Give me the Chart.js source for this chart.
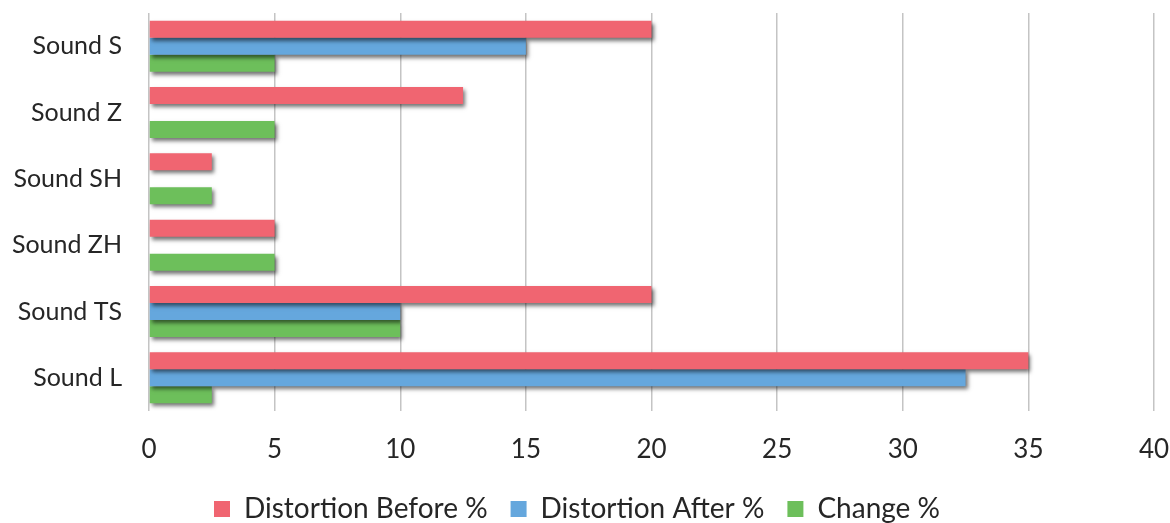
<!DOCTYPE html>
<html>
<head>
<meta charset="utf-8">
<script src="https://cdn.jsdelivr.net/npm/chart.js@4"></script>
<style>
  html, body { margin: 0; padding: 0; background: #fff; }
  #wrap { width: 1170px; height: 523px; }
</style>
</head>
<body>
<div id="wrap"><canvas id="chart" width="1170" height="523"></canvas></div>
<script>
const categories = ['Sound S', 'Sound Z', 'Sound SH', 'Sound ZH', 'Sound TS', 'Sound L'];
const distortionBefore = [20, 12.5, 2.5, 5, 20, 35];
const distortionAfter = [15, 0, 0, 0, 10, 32.5];
const change = [5, 5, 2.5, 5, 10, 2.5];
const xTicks = [0, 5, 10, 15, 20, 25, 30, 35, 40];

// soft drop shadow under the bars, like the original
const barShadow = {
    id: 'barShadow',
    afterInit(chart) {
        // legend padding is wide for the item spacing, keep the box itself short
        const fit = chart.legend.fit;
        chart.legend.fit = function () {
            fit.call(this);
            this.height = 51;
        };
    },
    beforeDatasetsDraw(chart) {
        const ctx = chart.ctx;
        ctx.save();
        ctx.shadowColor = 'rgba(0,0,0,0.55)';
        ctx.shadowBlur = 4;
        ctx.shadowOffsetX = 2;
        ctx.shadowOffsetY = 3;
    },
    afterDatasetsDraw(chart) {
        chart.ctx.restore();
    }
};

const tickFont = {family: 'Lato', size: 26};

new Chart(document.getElementById('chart').getContext('2d'), {
    type: 'bar',
    data: {
        labels: categories,
        datasets: [{
            label: 'Distortion Before %',
            data: distortionBefore,
            backgroundColor: '#f06571'
        }, {
            label: 'Distortion After %',
            data: distortionAfter,
            backgroundColor: '#65a7dd'
        }, {
            label: 'Change %',
            data: change,
            backgroundColor: '#6dbf5b'
        }]
    },
    plugins: [barShadow],
    options: {
        indexAxis: 'y',
        responsive: false,
        animation: false,
        categoryPercentage: 0.77,
        barPercentage: 1.0,
        layout: {
            padding: {left: 0, right: 16, top: 13, bottom: 0}
        },
        plugins: {
            legend: {
                position: 'bottom',
                labels: {
                    color: '#262626',
                    font: {family: 'Lato', size: 28},
                    boxWidth: 16,
                    boxHeight: 16,
                    padding: 23
                }
            },
            tooltip: {enabled: false}
        },
        scales: {
            x: {
                min: 0,
                max: 40,
                afterBuildTicks: (scale) => {
                    scale.ticks = xTicks.map(v => ({value: v}));
                },
                grid: {
                    color: '#c4c4c4',
                    lineWidth: 1.5,
                    drawTicks: false
                },
                border: {display: false},
                ticks: {
                    color: '#262626',
                    font: tickFont,
                    padding: 23
                },
                afterFit: (scale) => {
                    scale.height = 61;
                    scale.paddingLeft = 0;
                    scale.paddingRight = 0;
                }
            },
            y: {
                grid: {display: false},
                border: {display: false},
                ticks: {
                    color: '#262626',
                    font: {family: 'Lato', size: 25},
                    padding: 19
                },
                afterFit: (scale) => {
                    scale.width = 149;
                    scale.paddingTop = 0;
                    scale.paddingBottom = 0;
                }
            }
        }
    }
});
</script>
</body>
</html>
